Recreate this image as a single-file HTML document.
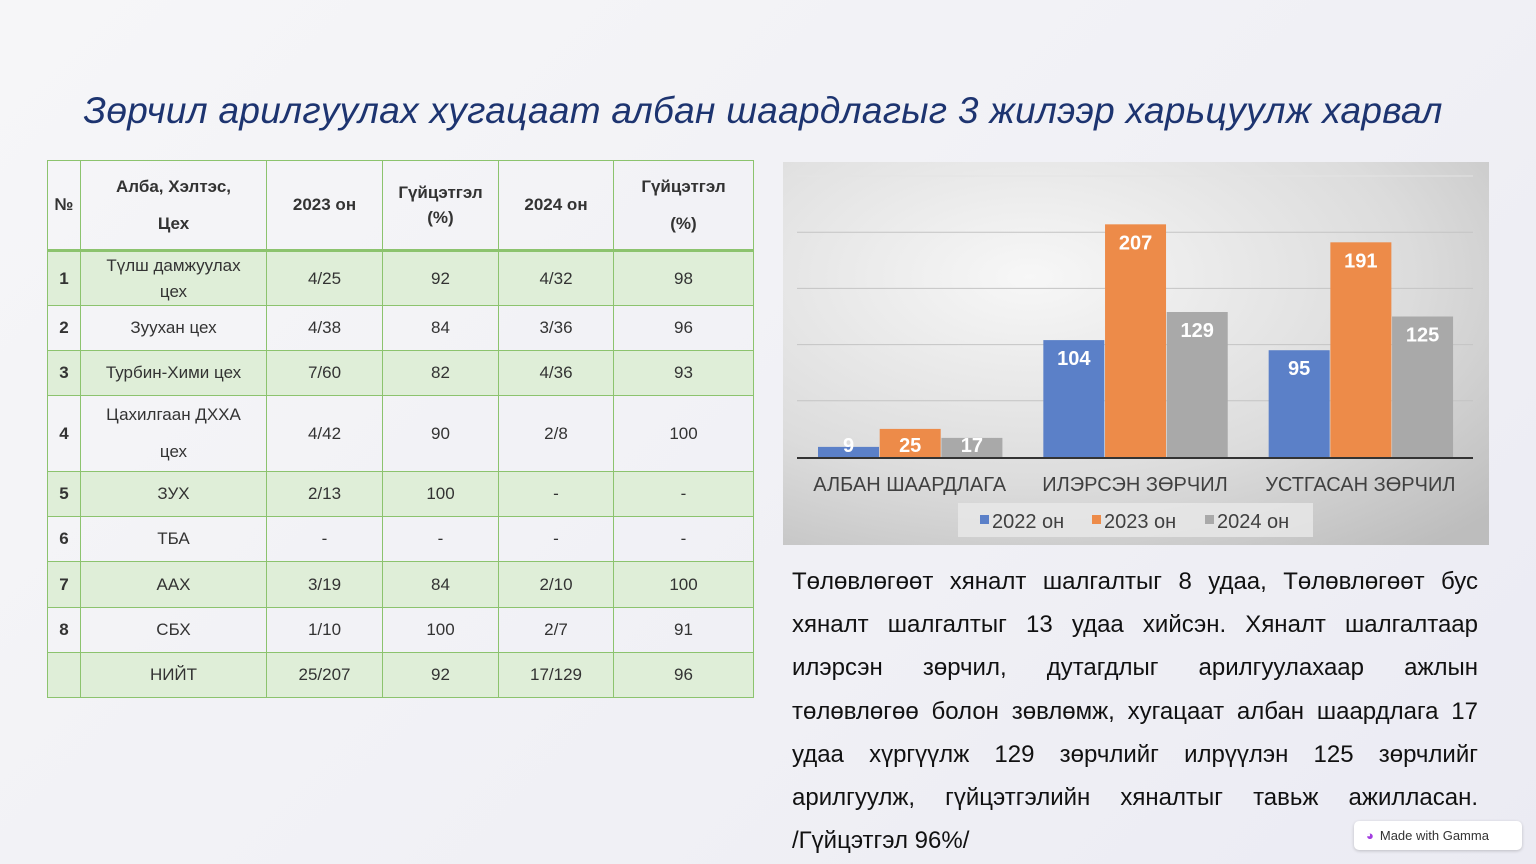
<!DOCTYPE html>
<html><head><meta charset="utf-8">
<style>
body{margin:0;width:1536px;height:864px;overflow:hidden;background:linear-gradient(135deg,#f6f6f8 0%,#f0f0f5 60%,#ebebf3 100%);font-family:"Liberation Sans",sans-serif;position:relative}
#title{position:absolute;left:0;width:1526px;top:90px;text-align:center;font-style:italic;font-size:37px;color:#1d3470;letter-spacing:0.3px}
table{position:absolute;left:47px;top:160px;border-collapse:collapse;font-size:17px;color:#333}
td{border:1px solid #8cc36e;text-align:center;padding:0;line-height:1.5}
tr.g td{background:#dfeed8}
tr.h td{font-weight:bold;border-bottom:3px solid #8cc36e}
td.n{font-weight:bold}
#chart{position:absolute;left:783px;top:162px}
#para{position:absolute;left:792px;top:562px;width:686px;font-family:"Liberation Sans Narrow","Liberation Sans",sans-serif;font-size:24px;color:#111}
#para div{height:43.2px;line-height:40px;text-align:justify;text-align-last:justify;white-space:nowrap}
#para div.last{text-align-last:left}
#badge{position:absolute;left:1354px;top:821px;width:168px;height:29px;background:#fff;border-radius:5px;box-shadow:0 1px 3px rgba(0,0,0,.2);font-size:13px;color:#333;line-height:29px}
</style></head><body>
<div id="title">Зөрчил арилгуулах хугацаат албан шаардлагыг 3 жилээр харьцуулж харвал</div>
<table>
<colgroup><col style="width:33px"><col style="width:186px"><col style="width:116px"><col style="width:116px"><col style="width:115px"><col style="width:140px"></colgroup>
<tr class="h" style="height:90px"><td>№</td><td style="line-height:2.2">Алба, Хэлтэс,<br>Цех</td><td>2023 он</td><td>Гүйцэтгэл<br>(%)</td><td>2024 он</td><td style="line-height:2.2">Гүйцэтгэл<br>(%)</td></tr>
<tr class="g" style="height:55px"><td class="n">1</td><td style="line-height:1.5">Түлш дамжуулах<br>цех</td><td>4/25</td><td>92</td><td>4/32</td><td>98</td></tr>
<tr style="height:45px"><td class="n">2</td><td>Зуухан цех</td><td>4/38</td><td>84</td><td>3/36</td><td>96</td></tr>
<tr class="g" style="height:45px"><td class="n">3</td><td>Турбин-Хими цех</td><td>7/60</td><td>82</td><td>4/36</td><td>93</td></tr>
<tr style="height:73px"><td class="n">4</td><td style="line-height:2.2">Цахилгаан ДХХА<br>цех</td><td>4/42</td><td>90</td><td>2/8</td><td>100</td></tr>
<tr class="g" style="height:45px"><td class="n">5</td><td>ЗУХ</td><td>2/13</td><td>100</td><td>-</td><td>-</td></tr>
<tr style="height:45px"><td class="n">6</td><td>ТБА</td><td>-</td><td>-</td><td>-</td><td>-</td></tr>
<tr class="g" style="height:46px"><td class="n">7</td><td>ААХ</td><td>3/19</td><td>84</td><td>2/10</td><td>100</td></tr>
<tr style="height:45px"><td class="n">8</td><td>СБХ</td><td>1/10</td><td>100</td><td>2/7</td><td>91</td></tr>
<tr class="g" style="height:45px"><td></td><td>НИЙТ</td><td>25/207</td><td>92</td><td>17/129</td><td>96</td></tr>
</table>
<svg id="chart" width="706" height="383">
<defs><radialGradient id="bg" cx="0.35" cy="0.3" r="0.9"><stop offset="0" stop-color="#f7f7f7"/><stop offset="0.6" stop-color="#dcdcdc"/><stop offset="1" stop-color="#bdbdbd"/></radialGradient></defs>
<rect width="706" height="383" fill="url(#bg)"/>
<rect x="175" y="341" width="355" height="34" fill="#e8e8e8" opacity="0.8"/>
<g id="grid"></g><g id="bars"></g><g id="labels"></g>
</svg>
<div id="para">
<div>Төлөвлөгөөт хяналт шалгалтыг 8 удаа, Төлөвлөгөөт бус</div>
<div>хяналт шалгалтыг 13 удаа хийсэн. Хяналт шалгалтаар</div>
<div>илэрсэн зөрчил, дутагдлыг арилгуулахаар ажлын</div>
<div>төлөвлөгөө болон зөвлөмж, хугацаат албан шаардлага 17</div>
<div>удаа хүргүүлж 129 зөрчлийг илрүүлэн 125 зөрчлийг</div>
<div>арилгуулж, гүйцэтгэлийн хяналтыг тавьж ажилласан.</div>
<div class="last">/Гүйцэтгэл 96%/</div>
</div>
<div id="badge"><span style="color:#a23de0;margin:0 6px 0 12px">◕</span>Made with Gamma</div>
<script>
const categories=["АЛБАН ШААРДЛАГА","ИЛЭРСЭН ЗӨРЧИЛ","УСТГАСАН ЗӨРЧИЛ"];
const seriesNames=["2022 он","2023 он","2024 он"];
const s2022=[9,104,95];
const s2023=[25,207,191];
const s2024=[17,129,125];
const gridTicks=[50,100,150,200,250];
const NS="http://www.w3.org/2000/svg";
const colors=["#5b80c8","#ed8b49","#a9a9a9"];
const x0=14,plotW=676,baseY=295,pxPer=1.124;
const y=v=>baseY-v*pxPer;
const groupW=plotW/categories.length;
function mk(t,a,p){const e=document.createElementNS(NS,t);for(const k in a)e.setAttribute(k,a[k]);p.appendChild(e);return e;}
const grid=document.getElementById('grid'),bars=document.getElementById('bars'),labels=document.getElementById('labels');
gridTicks.forEach(t=>{const l=mk('line',{x1:x0,x2:x0+plotW,y1:y(t),y2:y(t),stroke:t==250?'#e4e4e4':'#c4c4c4','stroke-width':1},grid);

});
const series=[s2022,s2023,s2024];
categories.forEach((c,i)=>{
 series.forEach((s,j)=>{
  const bx=x0+i*groupW+21+j*61.7, v=s[i];
  const r=mk('rect',{x:bx,y:y(v),width:61,height:v*pxPer,fill:colors[j]},bars);
  
  
  const ty=v*pxPer>30?y(v)+25:baseY-5;
  const t=mk('text',{x:bx+30.5,y:ty,'text-anchor':'middle',fill:'#fff','font-size':20,'font-weight':'bold','font-family':'Liberation Sans Narrow, Liberation Sans, sans-serif'},labels);
  t.textContent=v;
  
  
 });
 const ct=mk('text',{x:x0+i*groupW+groupW/2,y:329,'text-anchor':'middle',fill:'#404040','font-size':20},labels);
 ct.textContent=c;
 
 
});
const ax=mk('line',{x1:x0,x2:x0+plotW,y1:baseY+1,y2:baseY+1,stroke:'#333','stroke-width':2},labels);


const lx=[197,309,422];
seriesNames.forEach((n,j)=>{
 const sq=mk('rect',{x:lx[j],y:353,width:9,height:9,fill:colors[j]},labels);
 
 
 const t=mk('text',{x:lx[j]+12,y:366,fill:'#404040','font-size':20},labels);
 t.textContent=n;
 
 
});
</script>
</body></html>
